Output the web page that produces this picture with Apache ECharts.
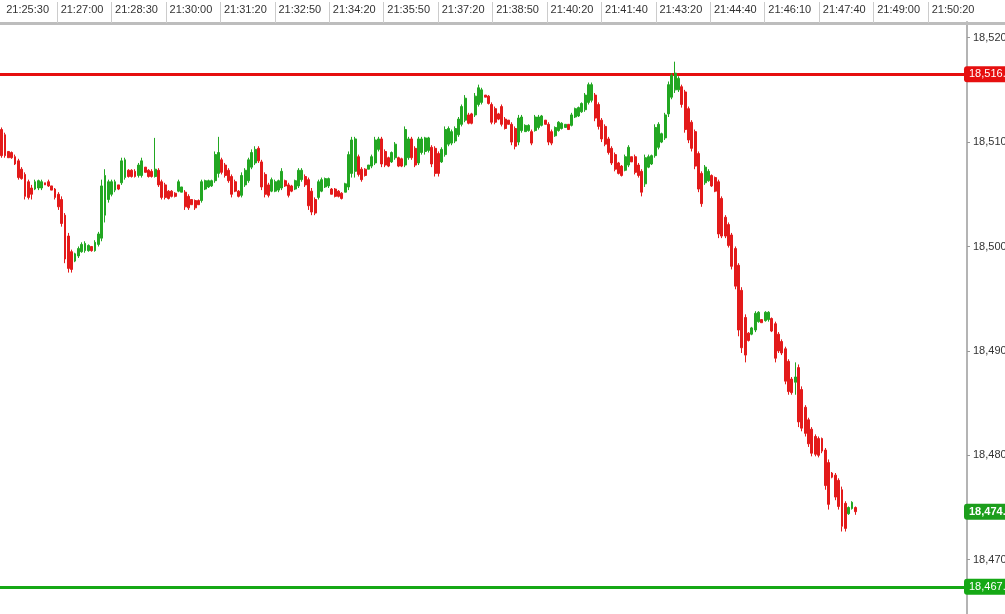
<!DOCTYPE html>
<html><head><meta charset="utf-8">
<script src="https://cdn.jsdelivr.net/npm/echarts@6/dist/echarts.min.js"></script>
<style>html,body{margin:0;padding:0;background:#fff}#c{width:1005px;height:614px}</style>
</head><body><div id="c"></div><script>
const timeLabels = ['21:25:30','21:27:00','21:28:30','21:30:00','21:31:20','21:32:50','21:34:20','21:35:50','21:37:20','21:38:50','21:40:20','21:41:40','21:43:20','21:44:40','21:46:10','21:47:40','21:49:00','21:50:20'];
const yTicks = [18470, 18480, 18490, 18500, 18510, 18520];
const upperLevel = 18516.5;
const lowerLevel = 18467.4;
const lastPrice = 18474.6;

const openP = [
18511.2,18510.7,18509.1,18509.0,18508.6,18508.2,18507.4,18506.9,18506.2,18505.6,
18505.5,18505.6,18505.6,18506.1,18506.2,18505.8,18505.5,18505.0,18504.5,18503.0,
18501.0,18499.5,18498.6,18499.1,18499.5,18499.6,18499.6,18500.0,18499.6,18500.2,
18500.8,18503.0,18504.5,18505.0,18505.4,18505.9,18506.1,18506.6,18507.3,18507.3,
18507.2,18506.8,18506.8,18507.6,18507.3,18507.2,18506.7,18507.3,18506.2,18505.9,
18505.3,18505.3,18505.1,18505.3,18505.2,18505.2,18504.8,18504.5,18504.4,18504.4,
18504.4,18505.5,18505.7,18505.8,18506.3,18507.0,18508.3,18507.8,18507.3,18506.7,
18506.2,18505.3,18504.9,18505.9,18506.3,18507.6,18508.0,18509.4,18508.1,18506.9,
18505.9,18505.3,18505.3,18505.4,18505.6,18506.3,18505.9,18505.8,18505.5,18505.8,
18506.4,18506.7,18506.4,18505.3,18504.5,18504.7,18505.3,18505.7,18505.8,18505.5,
18505.5,18505.3,18505.1,18505.2,18505.7,18507.0,18507.2,18508.6,18507.4,18507.4,
18507.4,18507.7,18508.0,18509.3,18510.3,18509.1,18508.5,18508.1,18508.5,18508.5,
18508.4,18507.8,18508.5,18510.3,18509.4,18508.0,18509.0,18509.1,18509.2,18509.5,
18509.4,18508.9,18508.1,18508.8,18509.8,18509.9,18510.1,18510.7,18511.7,18512.1,
18512.6,18512.7,18512.6,18513.6,18513.8,18514.5,18514.4,18513.6,18513.2,18512.7,
18513.4,18512.2,18512.1,18511.7,18511.3,18510.0,18511.1,18511.0,18511.1,18511.0,
18511.1,18511.4,18511.6,18512.1,18511.7,18511.0,18510.6,18511.1,18511.3,18511.4,
18511.7,18511.6,18512.4,18512.5,18512.9,18513.1,18513.8,18514.0,18514.5,18513.6,
18512.1,18511.5,18510.3,18509.4,18508.8,18508.0,18507.7,18507.3,18507.8,18508.6,
18508.6,18507.8,18507.2,18506.0,18507.6,18507.9,18508.7,18509.5,18510.0,18510.4,
18512.7,18514.3,18515.0,18515.0,18515.3,18514.8,18513.2,18511.9,18511.0,18508.9,
18507.0,18506.1,18506.3,18506.8,18506.6,18506.2,18504.6,18502.8,18502.1,18501.1,
18499.8,18498.2,18495.8,18493.2,18491.7,18491.6,18492.0,18492.8,18493.0,18492.9,
18493.0,18493.1,18492.6,18491.6,18490.9,18490.2,18489.0,18487.3,18487.0,18488.4,
18486.3,18484.6,18483.4,18482.5,18481.8,18481.6,18481.6,18480.5,18479.3,18478.3,
18478.1,18477.6,18476.7,18475.4,18474.4,18474.9,18475.0
];
const closeP = [
18508.7,18508.7,18508.5,18508.5,18507.9,18506.6,18506.5,18504.8,18504.7,18505.0,
18506.2,18506.3,18506.2,18505.9,18505.8,18505.4,18504.7,18503.8,18502.2,18498.8,
18497.9,18497.8,18499.3,18499.8,18500.2,18500.3,18500.1,18499.6,18500.4,18501.2,
18505.8,18506.8,18506.2,18506.2,18506.2,18505.5,18508.2,18508.3,18506.7,18506.7,
18506.7,18507.8,18508.2,18507.1,18506.7,18506.7,18507.4,18505.9,18504.7,18504.7,
18504.6,18504.8,18504.8,18506.2,18505.7,18503.8,18503.7,18504.0,18503.7,18504.0,
18506.2,18506.3,18506.3,18506.3,18508.8,18509.0,18507.1,18506.8,18506.3,18505.0,
18505.3,18504.8,18506.8,18507.3,18508.3,18509.0,18509.3,18508.2,18505.7,18505.0,
18504.9,18506.4,18506.2,18506.3,18507.2,18505.8,18504.9,18505.3,18506.3,18507.3,
18507.3,18505.9,18503.9,18503.3,18503.2,18506.2,18506.4,18506.5,18506.5,18505.0,
18504.8,18504.8,18504.6,18506.0,18508.8,18510.2,18510.3,18506.9,18506.4,18506.8,
18507.8,18508.6,18510.2,18510.3,18507.9,18507.8,18507.7,18509.0,18509.8,18507.7,
18507.7,18511.2,18510.3,18508.5,18507.8,18510.3,18510.3,18510.4,18510.4,18507.9,
18507.0,18507.0,18509.3,18511.2,18511.3,18511.0,18511.3,18512.2,18513.4,18514.2,
18511.8,18511.8,18514.4,18515.2,18515.0,18514.3,18513.7,18511.9,18511.9,18512.2,
18511.7,18511.3,18511.7,18510.0,18509.6,18512.3,18512.4,18511.6,18511.6,18509.9,
18512.4,18512.4,18512.5,18511.7,18510.0,18509.9,18511.4,18511.9,18511.8,18511.7,
18511.2,18512.6,18513.2,18513.3,18513.7,18514.5,18515.5,18515.5,18512.3,18511.5,
18510.3,18509.8,18509.0,18508.0,18507.4,18507.0,18506.8,18508.6,18509.5,18508.1,
18507.1,18506.8,18505.2,18508.5,18508.6,18508.7,18511.4,18511.7,18510.8,18512.6,
18515.5,18516.4,18516.6,18516.1,18513.6,18511.2,18510.2,18509.4,18507.7,18505.5,
18504.1,18507.6,18507.2,18505.8,18505.3,18501.2,18501.0,18501.0,18500.1,18498.1,
18496.2,18492.0,18490.3,18489.6,18491.0,18492.2,18493.6,18493.7,18492.7,18493.7,
18493.7,18491.9,18489.3,18490.0,18489.8,18487.1,18486.1,18486.0,18487.5,18483.2,
18482.6,18482.1,18481.1,18480.2,18480.1,18480.0,18480.4,18477.1,18475.3,18477.9,
18476.0,18475.1,18473.2,18473.0,18475.0,18475.5,18474.6
];
const lowP = [
18508.5,18508.5,18508.5,18508.4,18507.8,18506.4,18506.4,18504.5,18504.5,18504.5,
18505.4,18505.4,18505.4,18505.9,18505.7,18505.4,18504.5,18503.5,18501.9,18498.4,
18497.5,18497.5,18498.5,18498.9,18499.4,18499.4,18499.5,18499.5,18499.5,18500.0,
18500.5,18502.3,18504.2,18504.8,18505.2,18505.4,18505.9,18506.4,18506.6,18506.6,
18506.6,18506.6,18506.6,18507.1,18506.6,18506.6,18506.6,18505.7,18504.5,18504.5,
18504.5,18504.7,18504.7,18505.2,18505.2,18503.5,18503.5,18504.0,18503.5,18504.0,
18504.2,18505.4,18505.6,18505.7,18506.1,18506.6,18506.9,18506.6,18506.1,18504.7,
18505.2,18504.7,18504.7,18505.7,18506.1,18507.4,18507.8,18508.0,18505.4,18504.7,
18504.7,18505.2,18505.2,18505.2,18505.4,18505.7,18504.7,18505.2,18505.4,18505.6,
18506.2,18505.7,18503.5,18503.0,18503.0,18504.5,18505.2,18505.6,18505.6,18505.0,
18504.7,18504.7,18504.5,18505.2,18505.4,18506.6,18506.6,18506.7,18506.2,18506.7,
18507.4,18507.5,18507.8,18509.1,18507.6,18507.6,18507.6,18508.0,18508.3,18507.6,
18507.6,18507.6,18508.3,18508.3,18507.6,18507.8,18508.8,18508.8,18509.0,18507.6,
18506.7,18506.7,18508.0,18508.6,18509.6,18509.7,18509.9,18510.5,18511.5,18511.9,
18511.7,18511.7,18512.4,18513.4,18513.6,18514.3,18513.6,18511.7,18511.7,18512.1,
18511.5,18511.2,18511.7,18509.7,18509.3,18509.7,18510.9,18511.0,18511.0,18509.7,
18511.0,18511.2,18511.5,18511.7,18509.7,18509.7,18510.5,18511.0,18511.2,18511.4,
18511.2,18511.5,18512.3,18512.4,18512.8,18512.9,18513.6,18513.8,18512.0,18511.2,
18510.0,18509.6,18508.8,18507.8,18507.2,18506.9,18506.7,18507.2,18507.6,18508.1,
18506.9,18506.6,18504.8,18505.7,18507.5,18507.8,18508.5,18509.3,18509.9,18510.2,
18512.4,18514.1,18514.7,18514.8,18513.3,18510.9,18509.9,18509.1,18507.4,18505.2,
18503.8,18505.9,18506.2,18505.7,18505.2,18500.8,18500.8,18500.8,18499.9,18497.8,
18495.9,18491.4,18489.8,18488.9,18490.9,18491.5,18491.8,18492.7,18492.7,18492.8,
18492.8,18491.8,18488.9,18489.8,18489.6,18486.8,18485.8,18485.8,18485.8,18482.7,
18482.3,18481.8,18480.8,18479.9,18479.9,18479.8,18480.2,18476.7,18474.8,18477.8,
18475.7,18474.8,18472.7,18472.7,18474.3,18474.8,18474.3
];
const highP = [
18511.4,18510.9,18509.1,18509.1,18508.8,18508.4,18507.6,18507.1,18506.4,18505.9,
18506.4,18506.4,18506.4,18506.1,18506.4,18505.8,18505.6,18505.2,18504.8,18503.2,
18501.3,18499.7,18499.4,18500.0,18500.4,18500.5,18500.2,18500.0,18500.6,18501.4,
18506.4,18507.4,18506.4,18506.4,18506.4,18505.9,18508.5,18508.5,18507.4,18507.4,
18507.4,18508.0,18508.5,18507.6,18507.4,18507.4,18510.4,18507.5,18506.4,18506.1,
18505.4,18505.4,18505.2,18506.4,18505.7,18505.4,18505.0,18504.5,18504.5,18504.5,
18506.4,18506.4,18506.4,18506.4,18509.1,18510.5,18508.5,18508.0,18507.5,18506.9,
18506.4,18505.4,18507.1,18507.5,18508.5,18509.3,18509.6,18509.6,18508.3,18507.1,
18506.1,18506.6,18506.4,18506.4,18507.5,18506.4,18506.1,18505.9,18506.4,18507.5,
18507.5,18506.9,18506.6,18505.6,18504.7,18506.4,18506.6,18506.6,18506.6,18505.6,
18505.6,18505.4,18505.2,18506.1,18509.1,18510.5,18510.5,18508.8,18507.6,18507.5,
18507.8,18508.8,18510.5,18510.5,18510.5,18509.3,18508.6,18509.1,18510.0,18508.6,
18508.5,18511.5,18510.5,18510.5,18509.6,18510.5,18510.5,18510.5,18510.5,18509.7,
18509.6,18509.1,18509.5,18511.5,18511.5,18511.2,18511.5,18512.4,18513.6,18514.5,
18512.8,18512.8,18514.7,18515.5,18515.2,18514.5,18514.5,18513.8,18513.4,18512.8,
18513.6,18512.4,18512.1,18511.9,18511.5,18512.6,18512.6,18511.7,18511.7,18511.2,
18512.6,18512.6,18512.6,18512.1,18511.9,18511.2,18511.5,18512.0,18511.9,18511.7,
18511.7,18512.8,18513.3,18513.4,18513.8,18514.7,18515.7,18515.7,18514.7,18513.8,
18512.3,18511.7,18510.5,18509.6,18509.0,18508.1,18507.8,18508.8,18509.7,18508.6,
18508.8,18508.0,18507.4,18508.8,18508.8,18508.8,18511.7,18511.9,18510.9,18512.8,
18515.8,18516.6,18517.7,18516.3,18515.5,18515.0,18513.4,18512.1,18511.2,18509.1,
18507.2,18507.8,18507.4,18506.9,18506.7,18506.4,18504.8,18503.0,18502.3,18501.3,
18500.0,18498.4,18496.1,18493.5,18491.8,18492.3,18493.8,18493.8,18493.0,18493.8,
18493.8,18493.2,18492.8,18491.8,18491.1,18490.4,18489.2,18487.5,18488.9,18488.7,
18486.6,18484.8,18483.6,18482.7,18482.0,18481.8,18481.7,18480.7,18479.6,18478.4,
18478.3,18477.8,18477.0,18475.6,18475.1,18475.6,18475.1
];

const SLOT_COUNT = 290;
const slots = [];
for (let i = 0; i < SLOT_COUNT; i++) slots.push(String(i));
const candleData = slots.map((s, i) => i < openP.length ? [openP[i], closeP[i], lowP[i], highP[i]] : '-');

// header time scale: one unit per label band
const BAND_PX = 54.44, FIRST_SEP_PX = 2.56;
const headerMin = -FIRST_SEP_PX / BAND_PX;
const headerMax = (1005 - FIRST_SEP_PX) / BAND_PX;
const headerLabelPos = timeLabels.map((t, k) => k + 0.46);
const headerSepPos = timeLabels.slice(1).map((t, k) => k + 1);

function fmt(v, d) {
  const s = Number(v).toFixed(d);
  const parts = s.split('.');
  const a = parts[0].replace(/\B(?=(\d{3})+(?!\d))/g, ',');
  return parts[1] ? a + '.' + parts[1] : a;
}

const FONT = 'Liberation Sans, Arial, sans-serif';
const RED = '#e31a1a';
const GREEN = '#22a722';

function tagLabel(bg, bold) {
  return {
    show: true, position: 'end', distance: -3,
    formatter: p => fmt(p.value, 1),
    color: '#fff', fontSize: 11, fontFamily: FONT, fontWeight: bold ? 'bold' : 'normal',
    backgroundColor: bg, padding: [3, 6, 2, 5], borderRadius: 3
  };
}

const chart = echarts.init(document.getElementById('c'), null, {renderer: 'canvas'});
chart.setOption({
  animation: false,
  backgroundColor: '#fff',
  grid: [
    {left: 0, right: 38, top: 22, bottom: 0, containLabel: false, outerBoundsMode: 'none'},
    {left: 0, right: 0, top: 22, height: 1, containLabel: false, outerBoundsMode: 'none'}
  ],
  xAxis: [
    {type: 'category', gridIndex: 0, data: slots, boundaryGap: true, show: false},
    {type: 'value', gridIndex: 1, position: 'top', min: headerMin, max: headerMax,
     axisLine: {show: true, lineStyle: {color: '#bdbdbd', width: 3}},
     axisTick: {show: true, length: 21, customValues: headerSepPos, lineStyle: {color: '#cccccc', width: 1}},
     axisLabel: {customValues: headerLabelPos, formatter: v => timeLabels[Math.floor(v)] || '',
                 color: '#333', fontSize: 11, fontFamily: FONT, margin: 7, showMinLabel: true, showMaxLabel: true},
     splitLine: {show: false}}
  ],
  yAxis: [
    {type: 'value', gridIndex: 0, position: 'right', min: 18464.8, max: 18521.5,
     splitLine: {show: false},
     axisLine: {show: true, lineStyle: {color: '#b4b4b4', width: 2}},
     axisTick: {show: true, length: 3, customValues: yTicks, lineStyle: {color: '#999'}},
     axisLabel: {customValues: yTicks, formatter: v => fmt(v, 0), color: '#333', fontSize: 11, fontFamily: FONT, margin: 6}},
    {type: 'value', gridIndex: 1, show: false}
  ],
  series: [{
    type: 'candlestick', xAxisIndex: 0, yAxisIndex: 0, z: 3,
    data: candleData, barWidth: 2.4,
    itemStyle: {color: GREEN, color0: RED, borderColor: GREEN, borderColor0: RED, borderWidth: 1},
    markLine: {
      silent: true, symbol: 'none', animation: false, z: 1,
      data: [
        {yAxis: upperLevel, lineStyle: {color: '#e60f0f', width: 3, type: 'solid'}, label: tagLabel('#e60f0f', false)},
        {yAxis: lowerLevel, lineStyle: {color: '#15a815', width: 3, type: 'solid'}, label: tagLabel('#15a815', false)},
        {yAxis: lastPrice, lineStyle: {color: 'rgba(0,0,0,0)', width: 1, type: 'solid'}, label: tagLabel('#1c9e1c', true)}
      ]
    }
  }]
});
</script></body></html>
